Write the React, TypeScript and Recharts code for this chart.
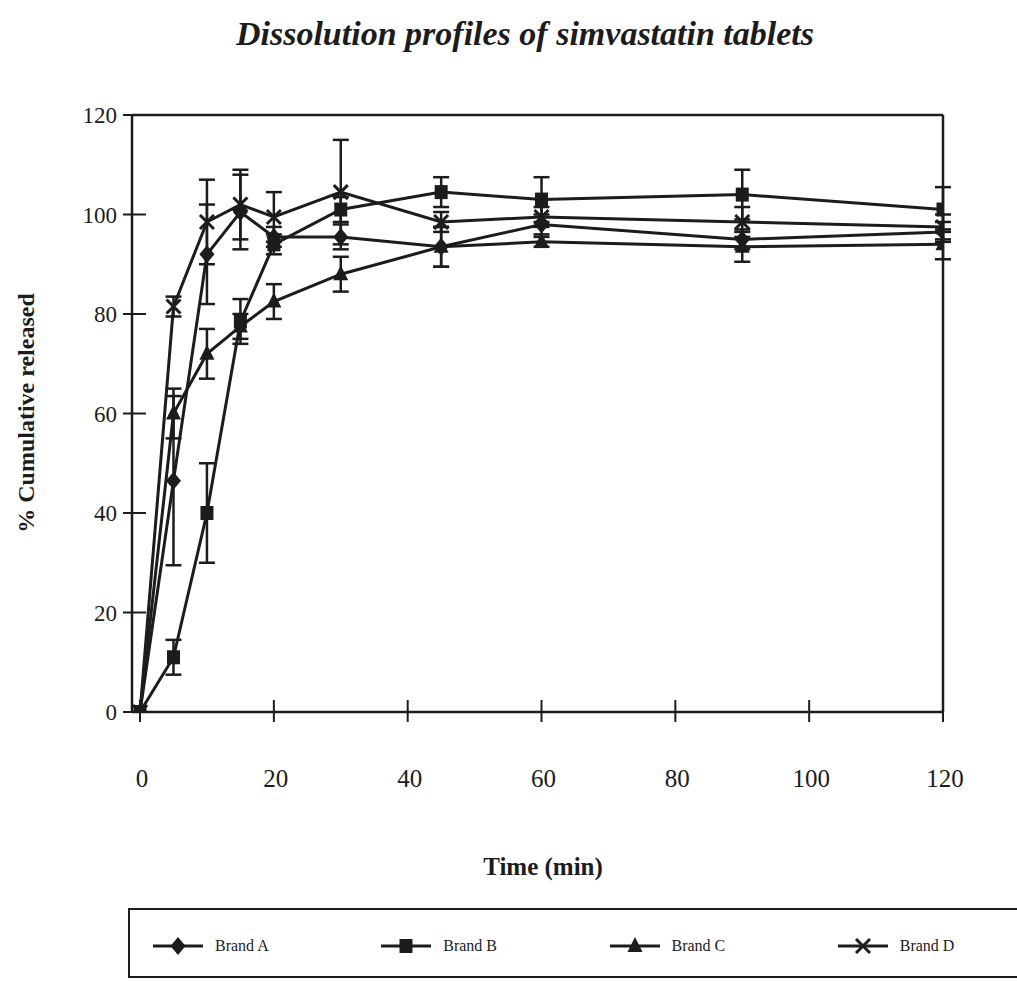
import { LineChart, Line, XAxis, YAxis, ErrorBar, ReferenceLine, Legend, Label } from 'recharts';

const TIME = [0, 5, 10, 15, 20, 30, 45, 60, 90, 120];
const BRAND_A = [0, 46.5, 92, 100.5, 95.5, 95.5, 93.5, 98, 95, 96.5];
const BRAND_A_SD = [0, 17, 10, 7.5, 2, 2.5, 4, 2, 2, 2];
const BRAND_B = [0, 11, 40, 78.5, 94, 101, 104.5, 103, 104, 101];
const BRAND_B_SD = [0, 3.5, 10, 4.5, 2, 2.5, 3, 4.5, 5, 4.5];
const BRAND_C = [0, 60, 72, 77.5, 82.5, 88, 93.5, 94.5, 93.5, 94];
const BRAND_C_SD = [0, 5, 5, 2.5, 3.5, 3.5, 4, 1, 3, 3];
const BRAND_D = [0, 81.5, 98.5, 102, 99.5, 104.5, 98.5, 99.5, 98.5, 97.5];
const BRAND_D_SD = [0, 2, 8.5, 7, 5, 10.5, 2, 2, 3, 2.5];

const X_TICKS = [0, 20, 40, 60, 80, 100, 120];
const Y_TICKS = [0, 20, 40, 60, 80, 100, 120];

const INK = '#1c1c1c';
const FONT = '"Liberation Serif", "Times New Roman", serif';

const data = TIME.map((t, i) => ({
  time: t,
  a: BRAND_A[i],
  aSd: BRAND_A_SD[i],
  b: BRAND_B[i],
  bSd: BRAND_B_SD[i],
  c: BRAND_C[i],
  cSd: BRAND_C_SD[i],
  d: BRAND_D[i],
  dSd: BRAND_D_SD[i],
}));

type Shape = 'diamond' | 'square' | 'triangle' | 'cross';

function Marker({ cx, cy, shape }: { cx: number; cy: number; shape: Shape }) {
  if (shape === 'diamond')
    return <polygon points={`${cx},${cy - 9} ${cx + 7.5},${cy} ${cx},${cy + 9} ${cx - 7.5},${cy}`} fill={INK} />;
  if (shape === 'square') return <rect x={cx - 6.5} y={cy - 7} width={13} height={14} fill={INK} />;
  if (shape === 'triangle')
    return <polygon points={`${cx},${cy - 9} ${cx + 7.5},${cy + 6} ${cx - 7.5},${cy + 6}`} fill={INK} />;
  return (
    <g stroke={INK} strokeWidth={3}>
      <line x1={cx - 7} y1={cy - 7} x2={cx + 7} y2={cy + 7} />
      <line x1={cx - 7} y1={cy + 7} x2={cx + 7} y2={cy - 7} />
    </g>
  );
}

const SERIES: { key: string; sd: string; name: string; shape: Shape }[] = [
  { key: 'a', sd: 'aSd', name: 'Brand A', shape: 'diamond' },
  { key: 'b', sd: 'bSd', name: 'Brand B', shape: 'square' },
  { key: 'c', sd: 'cSd', name: 'Brand C', shape: 'triangle' },
  { key: 'd', sd: 'dSd', name: 'Brand D', shape: 'cross' },
];

const XTick = (props: any) => {
  const { x, y, payload } = props;
  return (
    <g>
      <line x1={x} y1={y - 12} x2={x} y2={y + 10} stroke={INK} strokeWidth={2} />
      <text x={x + 2} y={y + 75} textAnchor="middle" fontSize={25} fill={INK} fontFamily={FONT}>
        {payload.value}
      </text>
    </g>
  );
};

const YTick = (props: any) => {
  const { x, y, payload } = props;
  return (
    <g>
      <line x1={x - 9} y1={y} x2={x + 14} y2={y} stroke={INK} strokeWidth={2} />
      <text x={x - 15} y={y + 8} textAnchor="end" fontSize={23} fill={INK} fontFamily={FONT}>
        {payload.value}
      </text>
    </g>
  );
};

const LegendBox = (props: any) => {
  const payload = props.payload || [];
  return (
    <div
      style={{
        width: 940,
        height: 70,
        border: `2px solid ${INK}`,
        display: 'flex',
        alignItems: 'center',
        paddingLeft: 23,
        paddingTop: 6,
        boxSizing: 'border-box',
        fontFamily: FONT,
        fontSize: 16,
        color: INK,
      }}
    >
      {SERIES.map((s) => {
        const item = payload.find((p: any) => p.dataKey === s.key);
        return (
          <div key={s.key} style={{ width: 229, display: 'flex', alignItems: 'center' }}>
            <svg width={50} height={20}>
              <line x1={0} y1={10} x2={50} y2={10} stroke={INK} strokeWidth={3} />
              <Marker cx={25} cy={10} shape={s.shape} />
            </svg>
            <span style={{ marginLeft: 12 }}>{item ? item.value : s.name}</span>
          </div>
        );
      })}
    </div>
  );
};

export default function App() {
  return (
    <div
      style={{
        position: 'absolute',
        left: 0,
        top: 0,
        width: 1017,
        height: 982,
        overflow: 'hidden',
        background: '#fff',
        fontFamily: FONT,
      }}
    >
      <div
        style={{
          position: 'absolute',
          top: 15,
          left: 0,
          width: 1050,
          textAlign: 'center',
          fontSize: 34,
          fontWeight: 700,
          fontStyle: 'italic',
          color: INK,
        }}
      >
        Dissolution profiles of simvastatin tablets
      </div>
      <LineChart width={1017} height={982} data={data} margin={{ top: 115, right: 74, left: 72, bottom: 140 }}>
        <XAxis
          dataKey="time"
          type="number"
          domain={[-1.2, 120]}
          ticks={X_TICKS}
          allowDataOverflow
          height={60}
          tickSize={0}
          tickMargin={0}
          tickLine={false}
          tick={<XTick />}
          axisLine={{ stroke: INK, strokeWidth: 2.5 }}
        >
          <Label
            content={() => (
              <text x={543} y={875} textAnchor="middle" fontSize={25} fontWeight={700} fill={INK} fontFamily={FONT}>
                Time (min)
              </text>
            )}
          />
        </XAxis>
        <YAxis
          type="number"
          domain={[0, 120]}
          ticks={Y_TICKS}
          allowDataOverflow
          width={60}
          tickSize={0}
          tickMargin={0}
          tickLine={false}
          tick={<YTick />}
          axisLine={{ stroke: INK, strokeWidth: 2.5 }}
        >
          <Label
            content={() => (
              <text
                x={34}
                y={413}
                transform="rotate(-90 34 413)"
                textAnchor="middle"
                fontSize={24}
                fontWeight={700}
                fill={INK}
                fontFamily={FONT}
              >
                % Cumulative released
              </text>
            )}
          />
        </YAxis>
        <ReferenceLine y={120} stroke={INK} strokeWidth={2.5} />
        <ReferenceLine x={120} stroke={INK} strokeWidth={2.5} />
        {SERIES.map((s) => (
          <Line
            key={s.key}
            dataKey={s.key}
            name={s.name}
            stroke={INK}
            strokeWidth={3}
            isAnimationActive={false}
            dot={(p: any) => <Marker key={`${s.key}-${p.index}`} cx={p.cx} cy={p.cy} shape={s.shape} />}
            activeDot={false}
          >
            <ErrorBar dataKey={s.sd} direction="y" width={8} stroke={INK} strokeWidth={2.5} isAnimationActive={false} />
          </Line>
        ))}
        <Legend content={<LegendBox />} wrapperStyle={{ position: 'absolute', left: 128, top: 908, width: 940 }} />
      </LineChart>
    </div>
  );
}
